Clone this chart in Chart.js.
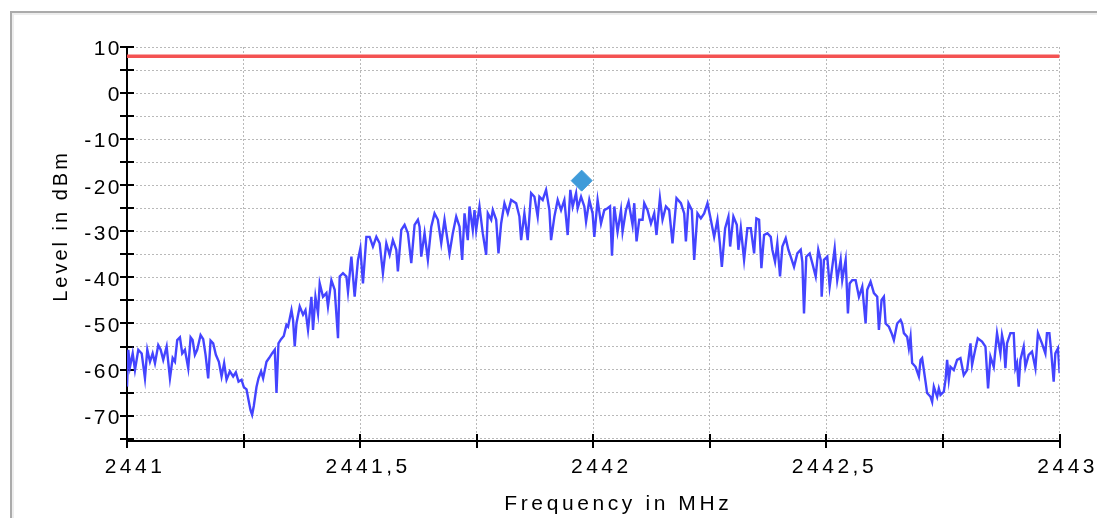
<!DOCTYPE html>
<html>
<head>
<meta charset="utf-8">
<script src="https://cdn.jsdelivr.net/npm/chart.js@4.4.1/dist/chart.umd.min.js"></script>
<style>
  html, body { margin: 0; padding: 0; background: #fff; overflow: hidden; }
  #wrap { position: relative; width: 1097px; height: 518px; overflow: hidden; }
  #frame {
    position: absolute; left: 10px; top: 11px; width: 1200px; height: 600px;
    border-left: 2px solid #ababab; border-top: 2px solid #ababab;
    box-shadow: inset 2px 2px 0 #ededed;
  }
  canvas { position: absolute; left: 0; top: 0; }
</style>
</head>
<body>
<div id="wrap">
  <div id="frame"></div>
  <canvas id="spectrum" width="1097" height="518"></canvas>
</div>
<script>
// Measured spectrum trace: frequency (MHz) and level (dBm)
const freqMHz = [
  2441.0000, 2441.0028, 2441.0064, 2441.0122, 2441.0171, 2441.0242, 2441.0315, 2441.0385, 2441.0435, 2441.0493,
  2441.0550, 2441.0600, 2441.0670, 2441.0722, 2441.0777, 2441.0850, 2441.0921, 2441.0979, 2441.1028, 2441.1077,
  2441.1135, 2441.1184, 2441.1242, 2441.1313, 2441.1364, 2441.1407, 2441.1456, 2441.1505, 2441.1578, 2441.1634,
  2441.1685, 2441.1741, 2441.1792, 2441.1848, 2441.1906, 2441.1970, 2441.2028, 2441.2083, 2441.2135, 2441.2206,
  2441.2276, 2441.2334, 2441.2392, 2441.2456, 2441.2505, 2441.2563, 2441.2606, 2441.2649, 2441.2683, 2441.2719,
  2441.2777, 2441.2820, 2441.2876, 2441.2919, 2441.2991, 2441.3047, 2441.3111, 2441.3169, 2441.3206, 2441.3248,
  2441.3304, 2441.3362, 2441.3419, 2441.3454, 2441.3527, 2441.3561, 2441.3597, 2441.3634, 2441.3704, 2441.3775,
  2441.3827, 2441.3882, 2441.3955, 2441.3989, 2441.4041, 2441.4096, 2441.4133, 2441.4203, 2441.4276, 2441.4310,
  2441.4383, 2441.4454, 2441.4525, 2441.4561, 2441.4632, 2441.4705, 2441.4739, 2441.4812, 2441.4882, 2441.4953,
  2441.5004, 2441.5060, 2441.5133, 2441.5203, 2441.5274, 2441.5347, 2441.5418, 2441.5488, 2441.5561, 2441.5632,
  2441.5702, 2441.5775, 2441.5809, 2441.5882, 2441.5953, 2441.6024, 2441.6096, 2441.6167, 2441.6238, 2441.6274,
  2441.6310, 2441.6381, 2441.6452, 2441.6525, 2441.6595, 2441.6666, 2441.6739, 2441.6809, 2441.6916, 2441.6987,
  2441.7060, 2441.7131, 2441.7188, 2441.7238, 2441.7308, 2441.7345, 2441.7415, 2441.7452, 2441.7488, 2441.7559,
  2441.7629, 2441.7702, 2441.7737, 2441.7810, 2441.7844, 2441.7917, 2441.7966, 2441.8023, 2441.8094, 2441.8165,
  2441.8238, 2441.8345, 2441.8415, 2441.8452, 2441.8522, 2441.8593, 2441.8666, 2441.8737, 2441.8807, 2441.8844,
  2441.8914, 2441.8987, 2441.9058, 2441.9094, 2441.9165, 2441.9236, 2441.9308, 2441.9379, 2441.9450, 2441.9507,
  2441.9557, 2441.9630, 2441.9664, 2441.9737, 2441.9807, 2441.9844, 2441.9914, 2441.9985, 2442.0021, 2442.0092,
  2442.0165, 2442.0235, 2442.0306, 2442.0358, 2442.0400, 2442.0450, 2442.0520, 2442.0593, 2442.0627, 2442.0700,
  2442.0756, 2442.0841, 2442.0878, 2442.0927, 2442.0985, 2442.1056, 2442.1092, 2442.1163, 2442.1236, 2442.1306,
  2442.1355, 2442.1428, 2442.1484, 2442.1557, 2442.1627, 2442.1698, 2442.1784, 2442.1878, 2442.1949, 2442.1985,
  2442.2041, 2442.2113, 2442.2163, 2442.2233, 2442.2306, 2442.2377, 2442.2448, 2442.2520, 2442.2591, 2442.2662,
  2442.2713, 2442.2756, 2442.2827, 2442.2897, 2442.2934, 2442.3004, 2442.3077, 2442.3111, 2442.3163, 2442.3233,
  2442.3304, 2442.3377, 2442.3448, 2442.3497, 2442.3555, 2442.3604, 2442.3662, 2442.3732, 2442.3805, 2442.3839,
  2442.3897, 2442.3946, 2442.4004, 2442.4054, 2442.4126, 2442.4182, 2442.4233, 2442.4304, 2442.4375, 2442.4448,
  2442.4482, 2442.4518, 2442.4567, 2442.4640, 2442.4696, 2442.4769, 2442.4824, 2442.4876, 2442.4897, 2442.4946,
  2442.5017, 2442.5068, 2442.5124, 2442.5176, 2442.5231, 2442.5304, 2442.5338, 2442.5411, 2442.5460, 2442.5497,
  2442.5552, 2442.5625, 2442.5696, 2442.5767, 2442.5839, 2442.5874, 2442.5946, 2442.6017, 2442.6088, 2442.6124,
  2442.6182, 2442.6231, 2442.6268, 2442.6338, 2442.6396, 2442.6445, 2442.6516, 2442.6589, 2442.6623, 2442.6660,
  2442.6730, 2442.6767, 2442.6803, 2442.6837, 2442.6910, 2442.6981, 2442.7017, 2442.7051, 2442.7088, 2442.7124,
  2442.7158, 2442.7231, 2442.7266, 2442.7302, 2442.7373, 2442.7409, 2442.7445, 2442.7516, 2442.7553, 2442.7587,
  2442.7623, 2442.7659, 2442.7730, 2442.7801, 2442.7873, 2442.7944, 2442.8015, 2442.8088, 2442.8122, 2442.8195,
  2442.8244, 2442.8336, 2442.8409, 2442.8465, 2442.8516, 2442.8587, 2442.8657, 2442.8730, 2442.8764, 2442.8801,
  2442.8837, 2442.8872, 2442.8944, 2442.9015, 2442.9051, 2442.9086, 2442.9122, 2442.9158, 2442.9229, 2442.9266,
  2442.9336, 2442.9407, 2442.9480, 2442.9535, 2442.9621, 2442.9694, 2442.9728, 2442.9780, 2442.9822, 2442.9872,
  2442.9908, 2442.9964, 2443.0000
];

const levelDbm = [
  -63.7, -55.7, -59.4, -56.5, -60.1, -55.7, -56.5, -61.9, -55.7, -58.3,
  -56.5, -58.6, -54.7, -55.7, -57.9, -55.0, -61.9, -57.5, -58.3, -53.6,
  -53.0, -56.5, -55.7, -59.7, -53.0, -53.6, -56.8, -55.7, -52.5, -53.4,
  -56.8, -61.9, -53.7, -54.3, -56.8, -58.3, -61.5, -58.6, -62.2, -60.4,
  -61.5, -60.6, -62.6, -62.2, -63.8, -64.3, -66.6, -68.8, -69.8, -67.9,
  -63.8, -61.9, -60.4, -61.9, -58.3, -57.5, -56.5, -55.7, -65.1, -54.3,
  -53.4, -52.7, -50.3, -50.7, -47.1, -49.2, -55.0, -50.0, -46.3, -48.1,
  -47.1, -51.4, -44.2, -51.4, -44.2, -47.8, -41.3, -44.2, -43.4, -46.3,
  -40.6, -42.7, -53.2, -39.8, -39.1, -39.8, -43.1, -35.5, -44.2, -36.2,
  -33.7, -41.3, -31.2, -31.2, -33.3, -31.2, -32.6, -39.1, -32.6, -35.1,
  -31.9, -34.0, -38.7, -29.7, -28.6, -30.4, -36.9, -28.6, -27.5, -29.0,
  -35.5, -30.4, -36.2, -29.0, -26.1, -27.5, -32.6, -27.5, -34.8, -30.4,
  -26.8, -29.0, -36.2, -26.1, -31.9, -24.6, -29.7, -25.4, -29.7, -24.6,
  -30.4, -35.1, -26.1, -27.5, -25.4, -27.5, -34.8, -28.3, -23.9, -26.1,
  -23.2, -23.9, -26.8, -31.9, -26.1, -31.9, -21.7, -22.5, -26.8, -22.5,
  -23.2, -21.0, -25.4, -31.9, -26.8, -23.2, -25.4, -23.2, -30.8, -21.0,
  -24.6, -21.7, -25.0, -22.5, -24.6, -27.9, -23.2, -26.1, -31.2, -23.2,
  -28.3, -25.4, -25.0, -24.6, -35.3, -24.6, -30.1, -25.4, -30.1, -25.4,
  -23.6, -28.6, -23.9, -32.2, -27.5, -27.5, -23.9, -25.4, -28.3, -26.1,
  -30.8, -22.8, -27.5, -24.6, -25.4, -32.6, -22.8, -23.9, -26.1, -32.2,
  -23.9, -25.4, -36.2, -26.1, -27.2, -26.1, -23.9, -27.5, -31.2, -27.5,
  -32.6, -37.7, -29.3, -26.8, -33.3, -26.8, -28.6, -34.0, -29.3, -36.2,
  -29.3, -29.3, -34.8, -27.2, -27.5, -38.0, -30.8, -30.4, -31.2, -34.0,
  -36.6, -32.6, -39.8, -33.3, -31.5, -34.0, -35.5, -37.7, -34.8, -34.0,
  -36.6, -47.8, -35.5, -34.8, -36.9, -39.8, -34.0, -36.2, -44.2, -36.2,
  -35.5, -42.0, -37.7, -33.7, -40.6, -36.2, -40.6, -36.2, -47.8, -41.3,
  -40.6, -40.6, -44.2, -42.0, -50.0, -42.7, -40.9, -43.4, -44.2, -51.4,
  -44.9, -44.2, -50.0, -50.7, -52.1, -53.6, -50.0, -49.2, -50.0, -52.1,
  -52.9, -55.4, -52.9, -58.6, -59.4, -61.5, -57.9, -57.5, -60.1, -62.6,
  -65.1, -65.9, -67.0, -63.7, -65.9, -64.1, -65.5, -64.8, -62.2, -57.9,
  -62.2, -59.4, -60.1, -57.9, -57.5, -61.2, -60.1, -54.3, -59.0, -55.4,
  -53.2, -53.9, -55.0, -64.1, -57.2, -59.4, -52.1, -56.5, -52.5, -54.3,
  -59.7, -54.3, -52.1, -52.1, -59.7, -58.6, -63.7, -57.9, -55.0, -59.4,
  -56.8, -56.1, -59.7, -52.1, -54.3, -56.5, -52.1, -52.1, -56.5, -62.6,
  -56.5, -55.4, -60.8
];

// Limit line and peak marker
const limitFreqMHz = [2441, 2443];
const limitDbm = [8, 8];
const markerFreqMHz = [2441.975];
const markerDbm = [-19];

// Axis range and tick spacing
const freqRange = [2441, 2443];
const freqStep = 0.25;
const levelRange = [-75.5, 10];
const levelStep = 5;

const FONT = '"Liberation Sans", Arial, Helvetica, sans-serif';

function toPoints(xs, ys) {
  return xs.map((x, i) => ({ x: x, y: ys[i] }));
}

// Draw a scale's text with a given letter spacing and shift
function withSpacing(scale, method, spacing, dx, dy) {
  const flag = '_spaced_' + method;
  if (scale[flag]) return;
  const orig = scale[method];
  scale[method] = function () {
    const ctx = this.ctx;
    ctx.save();
    ctx.letterSpacing = spacing;
    ctx.translate(dx, dy);
    orig.apply(this, arguments);
    ctx.restore();
  };
  scale[flag] = true;
}

const textSpacing = {
  id: 'textSpacing',
  afterLayout(chart) {
    withSpacing(chart.scales.x, 'drawLabels', '3.5px', 0, 0);
    withSpacing(chart.scales.x, 'drawTitle', '3.6px', 25, 0);
    withSpacing(chart.scales.y, 'drawLabels', '2.5px', 0, 0);
    withSpacing(chart.scales.y, 'drawTitle', '3px', 0, -18);
  }
};

// Tick marks that cross the axis lines
const crossTicks = {
  id: 'crossTicks',
  beforeDatasetsDraw(chart) {
    const { ctx, chartArea: a, scales: { x, y } } = chart;
    ctx.save();
    ctx.strokeStyle = '#000';
    ctx.lineWidth = 2;
    ctx.beginPath();
    y.ticks.forEach((t, i) => {
      const py = Math.round(y.getPixelForTick(i));
      ctx.moveTo(a.left - 7, py);
      ctx.lineTo(a.left + 7, py);
    });
    x.ticks.forEach((t, i) => {
      const px = Math.round(x.getPixelForTick(i));
      ctx.moveTo(px, a.bottom - 7);
      ctx.lineTo(px, a.bottom + 7);
    });
    ctx.stroke();
    ctx.restore();
  }
};

const gridStyle = { color: '#b9b9b9', lineWidth: 1, drawTicks: false };
const borderStyle = { display: true, color: '#000', width: 2, dash: [2, 2] };

new Chart(document.getElementById('spectrum'), {
  type: 'line',
  data: {
    datasets: [
      {
        label: 'Peak',
        data: toPoints(markerFreqMHz, markerDbm),
        showLine: false,
        pointStyle: 'rectRot',
        pointRadius: 10.5,
        pointBackgroundColor: '#3f9bd9',
        pointBorderColor: '#3f9bd9',
        pointBorderWidth: 1
      },
      {
        label: 'Limit',
        data: toPoints(limitFreqMHz, limitDbm),
        borderColor: '#f45252',
        borderWidth: 3.5,
        pointRadius: 0
      },
      {
        label: 'Level',
        data: toPoints(freqMHz, levelDbm),
        borderColor: '#4444ff',
        borderWidth: 2.4,
        pointRadius: 0,
        tension: 0
      }
    ]
  },
  options: {
    responsive: false,
    animation: false,
    devicePixelRatio: 1,
    layout: { padding: { left: 0, top: 47, right: 36, bottom: 0 } },
    plugins: { legend: { display: false }, tooltip: { enabled: false } },
    scales: {
      x: {
        type: 'linear',
        min: freqRange[0],
        max: freqRange[1],
        afterFit(s) { s.height = 77; },
        ticks: {
          stepSize: freqStep,
          autoSkip: false,
          maxRotation: 0,
          padding: 14,
          labelOffset: 8,
          color: '#000',
          font: { family: FONT, size: 21 },
          callback: (v) => Math.abs(v * 2 - Math.round(v * 2)) < 1e-6 ? String(v).replace('.', ',') : ''
        },
        grid: gridStyle,
        border: borderStyle,
        title: {
          display: true,
          text: 'Frequency in MHz',
          color: '#000',
          font: { family: FONT, size: 21 },
          padding: { top: 0, bottom: 1 }
        }
      },
      y: {
        type: 'linear',
        min: levelRange[0],
        max: levelRange[1],
        afterFit(s) { s.width = 127; },
        afterBuildTicks(s) { s.ticks = s.ticks.filter(t => t.value > levelRange[0] + 0.25); },
        ticks: {
          stepSize: levelStep,
          includeBounds: false,
          autoSkip: false,
          padding: 5,
          labelOffset: 2.5,
          color: '#000',
          font: { family: FONT, size: 21 },
          callback: (v) => (v % 10 === 0 ? String(v) : '')
        },
        grid: gridStyle,
        border: borderStyle,
        title: {
          display: true,
          text: 'Level in dBm',
          color: '#000',
          font: { family: FONT, size: 20 },
          padding: { top: 49.5, bottom: 0 }
        }
      }
    }
  },
  plugins: [textSpacing, crossTicks]
});
</script>
</body>
</html>
